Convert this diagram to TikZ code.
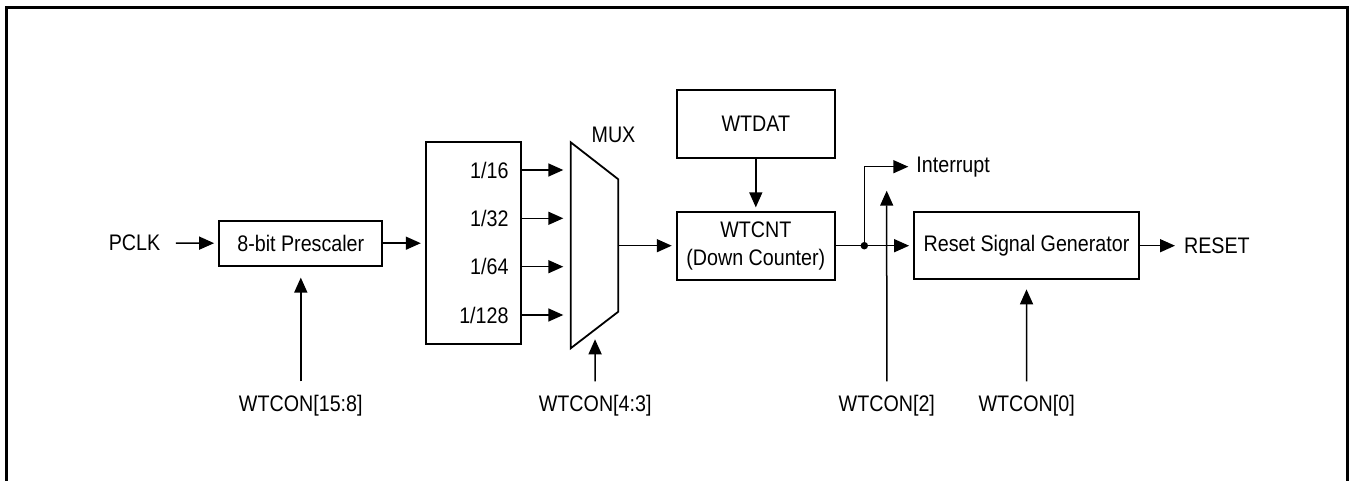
\documentclass[tikz,border=0pt]{standalone}
\usepackage{fontspec}
\setmainfont{Liberation Sans}[FakeStretch=0.875]
\usetikzlibrary{arrows.meta}
\begin{document}
\begin{tikzpicture}[x=1pt,y=-1pt,
  font=\fontsize{22.5}{28.3}\selectfont,
  line width=1.5pt,
  box/.style={draw, line width=1.8pt, inner sep=0pt, align=center},
  lbl/.style={inner sep=0pt},
  arr/.style={-{Triangle[length=15pt,width=13pt]}, line width=1.5pt}]
\useasboundingbox (0,0) rectangle (1353,481);
\draw[line width=3pt] (6,481) -- (6,7.5) -- (1347,7.5) -- (1347,481);

% blocks
\node[box, minimum width=163pt, minimum height=45pt] (pre) at (300.8,243.2) {8-bit Prescaler};
\node[box, minimum width=95pt, minimum height=202.6pt] (div) at (473.5,243) {};
\node[box, minimum width=158.3pt, minimum height=68.3pt] (wtdat) at (755.8,124.2) {WTDAT};
\node[box, minimum width=158.3pt, minimum height=68.3pt] (wtcnt) at (755.8,245.8) {WTCNT\\(Down Counter)};
\node[box, minimum width=224.4pt, minimum height=67.3pt] (rsg) at (1026.5,245.5) {Reset Signal Generator};

% divider labels
\node[lbl, anchor=east] (d16) at (509.3,170) {1/16};
\node[lbl, anchor=east] (d32) at (509.3,218.3) {1/32};
\node[lbl, anchor=east] (d64) at (509.3,266.7) {1/64};
\node[lbl, anchor=east] (d128) at (509.3,315) {1/128};

% mux
\coordinate (m1) at (570.7,142.3);
\coordinate (m2) at (618.3,179.3);
\coordinate (m3) at (618.3,311.7);
\coordinate (m4) at (570.7,348.3);
\draw[line width=1.8pt] (m1) -- (m2) -- (m3) -- (m4) -- cycle;
\node[lbl] (muxl) at (613.5,135) {MUX};
\coordinate (mi1) at (570.7,170);
\coordinate (mi2) at (570.7,218.3);
\coordinate (mi3) at (570.7,266.7);
\coordinate (mi4) at (570.7,315);
\coordinate (mo) at (618.3,245.7);
\coordinate (mc) at (595,329.6);

% text labels
\node[lbl] (pclk) at (134.5,243) {PCLK};
\node[lbl, anchor=west] (intr) at (915.7,166.7) {Interrupt};
\node[lbl, anchor=west] (reset) at (1183.3,245.7) {RESET};
\node[lbl, anchor=base] (w158) at (300.8,411.5) {WTCON[15:8]};
\node[lbl, anchor=base] (w43) at (595.2,411.5) {WTCON[4:3]};
\node[lbl, anchor=base] (w2) at (886.8,411.5) {WTCON[2]};
\node[lbl, anchor=base] (w0) at (1026.7,411.5) {WTCON[0]};

\node[circle, fill, inner sep=0pt, minimum size=7.5pt] (dot) at (864.3,245.7) {};
\coordinate (i2) at (886.7,190.7);

% connectors
\draw[arr, shorten <=15pt, shorten >=4.3pt] (pclk.east) -- (pre.west);
\draw[arr, shorten >=4.3pt] (pre.east) -- (div.west |- pre.east);
\draw[arr, shorten >=7.4pt] (div.east |- mi1) -- (mi1);
\draw[arr, shorten >=7.4pt] (div.east |- mi2) -- (mi2);
\draw[arr, shorten >=7.4pt] (div.east |- mi3) -- (mi3);
\draw[arr, shorten >=7.4pt] (div.east |- mi4) -- (mi4);
\draw[arr, shorten >=4pt] (mo) -- (wtcnt.west |- mo);
\draw[arr, shorten >=3.4pt] (wtdat) -- (wtcnt);
\draw (wtcnt.east |- dot) -- (dot.center);
\draw[arr, shorten >=4.3pt] (dot.center) -- (rsg.west |- dot.center);
\draw[arr, shorten >=7.4pt] (dot.center) |- (intr.west);
\draw[arr, shorten >=8.3pt] (rsg.east |- reset.west) -- (reset.west);
\draw[arr, shorten <=13pt, shorten >=11pt] (w158.north) -- (pre.south);
\draw[arr, shorten <=13pt, shorten >=9.7pt] (w43.north) -- (mc);
\draw[arr, shorten <=13pt] (w2.north) -- (i2);
\draw[arr, shorten <=13pt, shorten >=9.3pt] (w0.north) -- (rsg.south);
\end{tikzpicture}
\end{document}
